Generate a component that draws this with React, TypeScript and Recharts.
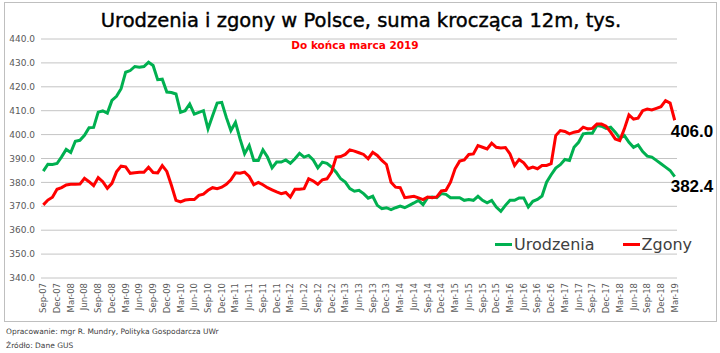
import React from 'react';
import { LineChart, Line, XAxis, YAxis, CartesianGrid, Legend } from 'recharts';

const MONTHS = ['Jan', 'Feb', 'Mar', 'Apr', 'May', 'Jun', 'Jul', 'Aug', 'Sep', 'Oct', 'Nov', 'Dec'];
const START_MONTH_INDEX = 8; // Sep
const START_YEAR = 2007;

const urodzenia = [
  384.7, 387.6, 387.5, 387.9, 390.7, 393.8, 392.5, 397.2, 397.6, 399.7,
  402.9, 403.0, 409.4, 409.9, 409.0, 414.3, 416.0, 419.2, 426.1, 426.8,
  428.5, 428.2, 428.5, 430.3, 428.9, 423.0, 423.2, 417.8, 417.6, 417.0,
  409.3, 410.0, 412.8, 408.6, 409.3, 410.0, 402.4, 407.9, 413.2, 413.5,
  407.2, 401.7, 405.1, 398.2, 392.0, 395.4, 389.2, 389.2, 393.6, 390.6,
  386.1, 388.5, 388.5, 389.4, 388.0, 389.9, 392.2, 390.6, 391.3, 389.4,
  386.1, 388.5, 388.0, 386.4, 384.3, 381.5, 380.1, 377.4, 376.3, 376.7,
  375.3, 373.4, 374.2, 370.4, 369.0, 369.4, 368.6, 369.4, 370.1, 369.4,
  370.4, 371.4, 372.5, 370.7, 373.6, 373.9, 373.6, 375.3, 375.0, 373.6,
  373.6, 373.6, 372.5, 372.8, 372.5, 374.2, 372.5, 371.5, 372.5, 369.7,
  367.9, 370.4, 372.5, 372.5, 373.5, 373.5, 369.7, 372.1, 372.9, 374.3,
  380.1, 383.2, 386.0, 387.4, 389.6, 389.2, 394.7, 396.8, 400.3, 400.6,
  400.6, 403.8, 403.5, 402.6, 403.1, 401.0, 398.5, 399.6, 396.8, 394.7,
  395.7, 392.9, 391.0, 390.6, 389.2, 387.8, 386.4, 385.0, 382.4,
];

const zgony = [
  370.6, 372.6, 373.8, 377.1, 377.8, 378.9, 379.2, 379.2, 379.3, 381.7,
  380.3, 378.6, 382.0, 380.3, 377.5, 379.6, 384.4, 386.8, 386.5, 383.8,
  384.0, 384.2, 384.2, 386.3, 384.1, 384.0, 387.0, 384.6, 378.8, 372.5,
  371.8, 372.6, 372.8, 372.8, 374.6, 375.1, 376.7, 377.8, 377.4, 378.0,
  379.2, 381.1, 384.0, 383.8, 384.3, 382.5, 379.0, 380.0, 379.0, 377.8,
  376.9, 376.0, 375.3, 375.8, 373.9, 377.1, 377.1, 377.4, 381.5, 380.6,
  379.2, 381.1, 381.5, 384.3, 390.6, 390.8, 391.7, 393.6, 393.1, 392.4,
  391.7, 389.9, 392.6, 391.3, 389.2, 387.5, 380.1, 378.0, 377.8, 373.6,
  373.9, 374.2, 373.5, 372.8, 373.9, 373.6, 373.9, 376.4, 376.7, 380.1,
  385.7, 388.9, 389.4, 391.7, 391.9, 395.4, 394.7, 394.0, 396.4, 394.7,
  394.4, 394.6, 391.9, 387.1, 389.6, 388.2, 385.7, 386.4, 385.7, 387.1,
  387.1, 387.8, 399.6, 401.7, 401.3, 400.3, 401.0, 401.4, 403.1, 402.4,
  402.6, 404.4, 404.4, 403.5, 401.0, 398.2, 397.5, 402.4, 408.2, 406.5,
  406.9, 410.0, 410.7, 410.3, 411.0, 411.7, 414.2, 413.2, 406.0,
];

const categories = urodzenia.map((_, i) => {
  const m = (START_MONTH_INDEX + i) % 12;
  const y = START_YEAR + Math.floor((START_MONTH_INDEX + i) / 12);
  return `${MONTHS[m]}-${String(y % 100).padStart(2, '0')}`;
});

const yTicks = [340, 350, 360, 370, 380, 390, 400, 410, 420, 430, 440];

const data = categories.map((label, i) => ({
  label,
  Urodzenia: urodzenia[i],
  Zgony: zgony[i],
}));

const FONT = '"DejaVu Sans", sans-serif';
const LAST = data.length - 1;

const XTick = (props: any) => {
  const { x, y, payload } = props;
  return (
    <text
      x={0}
      y={0}
      transform={`translate(${x},${y}) rotate(-90)`}
      textAnchor="end"
      dominantBaseline="central"
      fontSize={8.5}
      fontFamily={FONT}
      fill="#595959"
    >
      {payload.value}
    </text>
  );
};

const endLabel = (dy: number) => (props: any) => {
  const { x, y, index, value } = props;
  if (index !== LAST) return null;
  return (
    <text
      x={x - 4}
      y={y + dy}
      fontSize={17}
      fontWeight="bold"
      fontFamily='"Liberation Sans", Arial, sans-serif'
      fill="#000"
    >
      {Number(value).toFixed(1)}
    </text>
  );
};

const LegendContent = (props: any) => {
  const { payload } = props;
  return (
    <div style={{ display: 'flex', alignItems: 'center', fontFamily: FONT, fontSize: 16, color: '#404040', whiteSpace: 'nowrap' }}>
      {(payload || []).map((p: any, i: number) => (
        <div key={i} style={{ display: 'flex', alignItems: 'center', marginRight: i === 0 ? 28 : 0 }}>
          <span style={{ display: 'inline-block', width: 17, height: 3, background: p.color, marginRight: 2 }} />
          <span>{p.value}</span>
        </div>
      ))}
    </div>
  );
};

export default function App() {
  return (
    <div style={{ position: 'absolute', left: 0, top: 0, width: 720, height: 353, background: '#fff', overflow: 'hidden' }}>
      <div style={{ position: 'absolute', left: 4, top: 2, width: 713, height: 320, border: '1px solid #bfbfbf', boxSizing: 'border-box' }} />
      <div style={{ position: 'absolute', left: 0, top: 0, width: 720, height: 353 }}>
        <LineChart width={720} height={353} data={data} margin={{ top: 39, right: 43, bottom: 35, left: 0 }}>
          <CartesianGrid vertical={false} stroke="#c4c4c4" strokeWidth={1} />
          <XAxis
            dataKey="label"
            interval={2}
            axisLine={false}
            tickLine={false}
            tickSize={0}
            tickMargin={5}
            height={40}
            padding={{ left: 2.3, right: 2.3 }}
            tick={<XTick />}
          />
          <YAxis
            domain={[340, 440]}
            ticks={yTicks}
            width={41}
            axisLine={false}
            tickLine={false}
            tickSize={0}
            tickMargin={6}
            tickFormatter={(v: number) => v.toFixed(1)}
            tick={{ fontSize: 9, fontFamily: FONT, fill: '#595959' }}
          />
          <Legend
            layout="horizontal"
            verticalAlign="middle"
            align="center"
            wrapperStyle={{ left: 495, top: 235, width: 200 }}
            content={<LegendContent />}
          />
          <Line
            type="linear"
            dataKey="Urodzenia"
            stroke="#00b050"
            strokeWidth={3}
            dot={false}
            isAnimationActive={false}
            label={endLabel(15)}
          />
          <Line
            type="linear"
            dataKey="Zgony"
            stroke="#ff0000"
            strokeWidth={3}
            dot={false}
            isAnimationActive={false}
            label={endLabel(17)}
          />
        </LineChart>
      </div>
      <div style={{ position: 'absolute', left: 0, top: 9, width: 722, textAlign: 'center', fontFamily: FONT, fontSize: 19.5, color: '#000', whiteSpace: 'nowrap', WebkitTextStroke: '0.4px #000' }}>
        Urodzenia i zgony w Polsce, suma krocząca 12m, tys.
      </div>
      <div style={{ position: 'absolute', left: 0, top: 39, width: 710, textAlign: 'center', fontFamily: FONT, fontSize: 10.5, fontWeight: 'bold', color: '#ff0000', whiteSpace: 'nowrap' }}>
        Do końca marca 2019
      </div>
      <div style={{ position: 'absolute', left: 6, top: 327, fontFamily: FONT, fontSize: 7.5, color: '#404040', whiteSpace: 'nowrap' }}>
        Opracowanie: mgr R. Mundry, Polityka Gospodarcza UWr
      </div>
      <div style={{ position: 'absolute', left: 6, top: 341, fontFamily: FONT, fontSize: 7.5, color: '#404040', whiteSpace: 'nowrap' }}>
        Źródło: Dane GUS
      </div>
    </div>
  );
}
